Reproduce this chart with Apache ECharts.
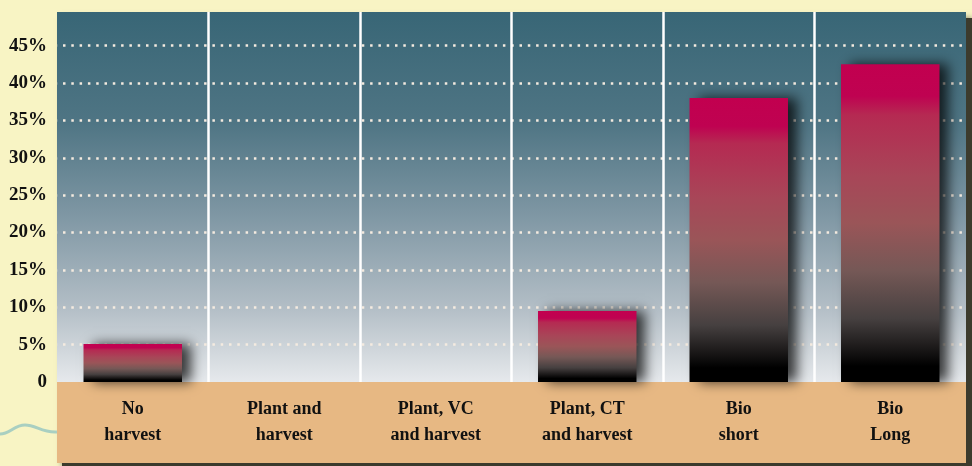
<!DOCTYPE html>
<html>
<head>
<meta charset="utf-8">
<script src="https://cdn.jsdelivr.net/npm/echarts@6/dist/echarts.min.js"></script>
<style>
  html, body { margin: 0; padding: 0; background: #f8f4c4; }
  #chart { width: 972px; height: 466px; }
</style>
</head>
<body>
<div id="chart"></div>
<script>
// categories and values (percent)
const categories = ['No\nharvest', 'Plant and\nharvest', 'Plant, VC\nand harvest', 'Plant, CT\nand harvest', 'Bio\nshort', 'Bio\nLong']
const values = [5.1, 0, 0, 9.5, 38, 42.5]

const FONT = '"Liberation Serif", "DejaVu Serif", serif'

const chart = echarts.init(document.getElementById('chart'))

const panelGradient = new echarts.graphic.LinearGradient(0, 0, 0, 1, [
  { offset: 0, color: '#386676' },
  { offset: 0.3, color: '#4f7584' },
  { offset: 0.55, color: '#7f97a4' },
  { offset: 0.8, color: '#b3bec6' },
  { offset: 1, color: '#e6e9ec' }
])

const barGradient = new echarts.graphic.LinearGradient(0, 0, 0, 1, [
  { offset: 0, color: '#c2004f' },
  { offset: 0.1, color: '#bf0251' },
  { offset: 0.16, color: '#b52a52' },
  { offset: 0.35, color: '#a84658' },
  { offset: 0.5, color: '#9a5558' },
  { offset: 0.65, color: '#755856' },
  { offset: 0.8, color: '#464040' },
  { offset: 0.9, color: '#181616' },
  { offset: 0.95, color: '#000000' },
  { offset: 1, color: '#000000' }
])

const option = {
  backgroundColor: '#f8f4c4',
  animation: false,
  graphic: [
    // drop shadow of the panel
    {
      type: 'rect', z: -3,
      shape: { x: 62, y: 18, width: 910, height: 448 },
      style: { fill: '#3c3b2d', shadowBlur: 6, shadowColor: 'rgba(40,40,30,0.6)' }
    },
    // plot background
    {
      type: 'rect', z: -2,
      shape: { x: 57, y: 12, width: 909, height: 370 },
      style: { fill: panelGradient }
    },
    // label band
    {
      type: 'rect', z: -2,
      shape: { x: 57, y: 382, width: 909, height: 81 },
      style: { fill: '#e7b883' }
    },
    // decorative wave
    {
      type: 'bezierCurve', z: -2,
      shape: { x1: 0, y1: 434, cpx1: 10, cpy1: 434, cpx2: 14, cpy2: 425, x2: 25, y2: 425 },
      style: { fill: null, stroke: '#a9cfc1', lineWidth: 3 }
    },
    {
      type: 'bezierCurve', z: -2,
      shape: { x1: 25, y1: 425, cpx1: 36, cpy1: 425, cpx2: 42, cpy2: 433, x2: 57, y2: 432 },
      style: { fill: null, stroke: '#a9cfc1', lineWidth: 3 }
    }
  ],
  grid: { left: 57, right: 6, top: 12, bottom: 84 },
  xAxis: {
    type: 'category',
    data: categories,
    axisLine: { show: false },
    axisTick: { show: false },
    axisLabel: {
      margin: 14,
      color: '#111',
      fontFamily: FONT,
      fontWeight: 'bold',
      fontSize: 18,
      lineHeight: 26
    },
    splitLine: {
      show: true,
      showMinLine: false,
      showMaxLine: false,
      lineStyle: { color: '#ffffff', width: 2.5 }
    }
  },
  yAxis: {
    type: 'value',
    min: 0,
    max: 49.5,
    interval: 5,
    axisLine: { show: false },
    axisTick: { show: false },
    axisLabel: {
      margin: 10,
      color: '#111',
      fontFamily: FONT,
      fontWeight: 'bold',
      fontSize: 19,
      formatter: v => (v % 5 !== 0 ? '' : v === 0 ? '0' : v + '%')
    },
    splitLine: {
      show: true,
      showMinLine: false,
      showMaxLine: false,
      lineStyle: { color: '#f5ebe0', width: 2.5, type: [2.5, 5.8], dashOffset: -6 }
    }
  },
  series: [
    {
      type: 'bar',
      data: values,
      barWidth: '65%',
      itemStyle: {
        color: barGradient,
        shadowBlur: 12,
        shadowOffsetX: 9,
        shadowOffsetY: 0,
        shadowColor: 'rgba(0,0,0,0.75)'
      }
    }
  ]
}

chart.setOption(option)
</script>
</body>
</html>
